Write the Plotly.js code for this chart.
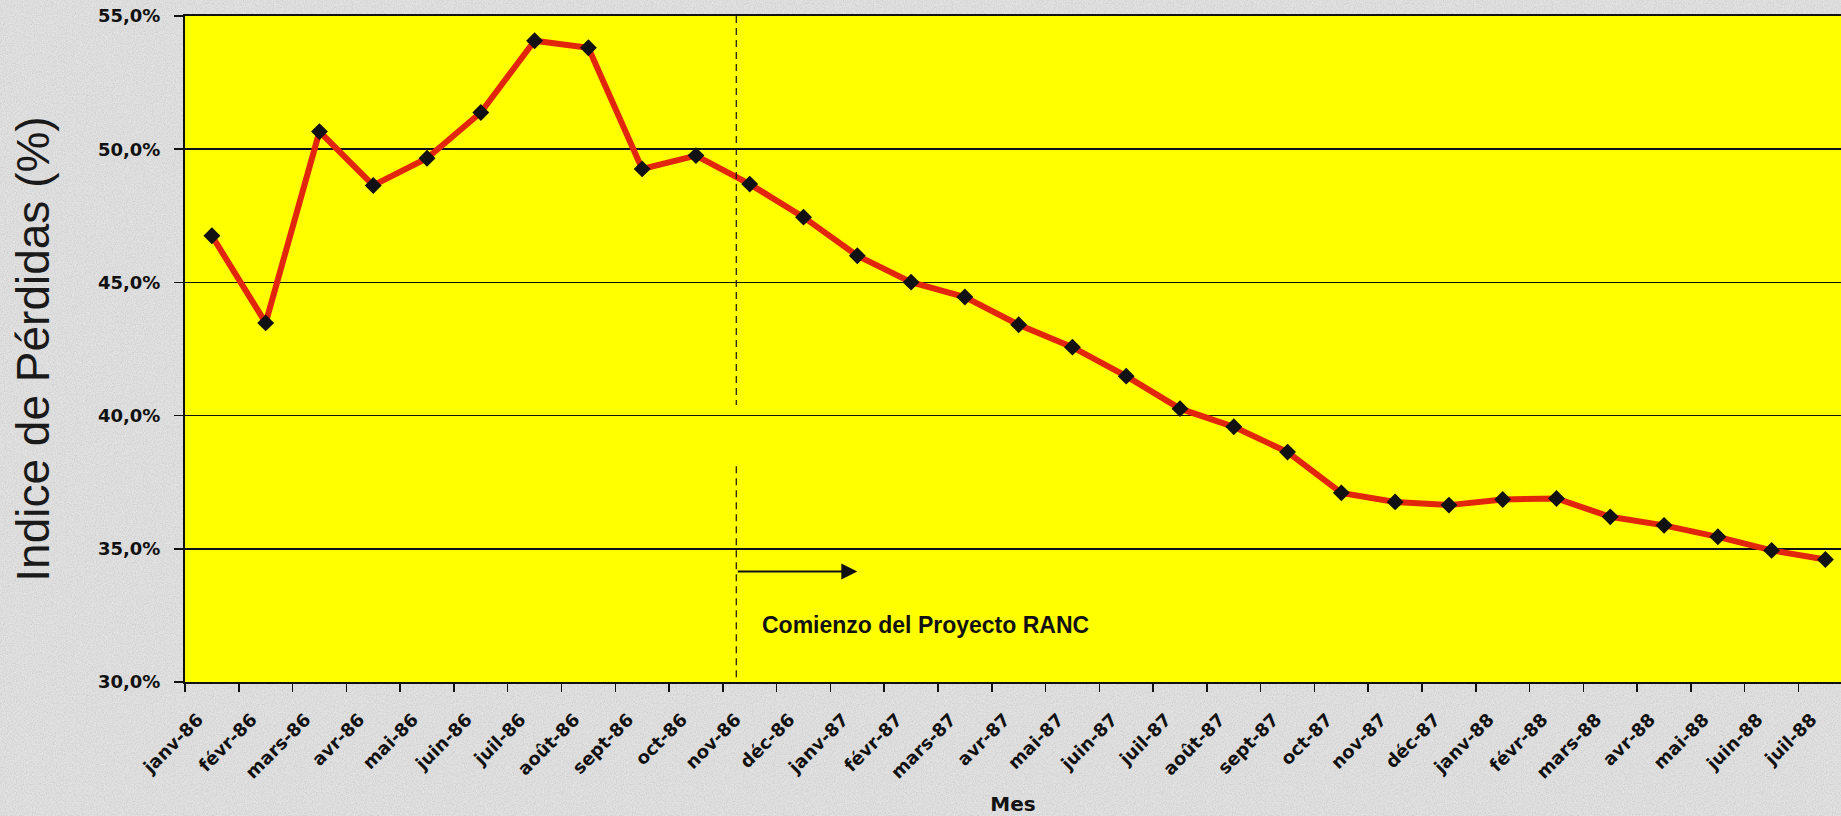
<!DOCTYPE html>
<html>
<head>
<meta charset="utf-8">
<script src="https://cdn.plot.ly/plotly-3.0.1.min.js"></script>
<style>
  html, body { margin: 0; padding: 0; overflow: hidden; }
  body {
    width: 1841px; height: 816px;
    background-color: #dadada;
    background-image: url("data:image/svg+xml;utf8,<svg xmlns='http://www.w3.org/2000/svg' width='300' height='300'><filter id='n'><feTurbulence type='fractalNoise' baseFrequency='0.9' numOctaves='2' stitchTiles='stitch'/><feColorMatrix type='matrix' values='0 0 0 0 0.5  0 0 0 0 0.5  0 0 0 0 0.5  0 0 0 1.6 -0.55'/></filter><rect width='300' height='300' fill='%23e2e2e2'/><rect width='300' height='300' filter='url(%23n)' opacity='0.6'/></svg>");
  }
  #chart { width: 1841px; height: 816px; }
</style>
</head>
<body>
<div id="chart"></div>
<script>
// ---- data ----
const months = [
  "janv-86","févr-86","mars-86","avr-86","mai-86","juin-86","juil-86","août-86","sept-86","oct-86","nov-86","déc-86",
  "janv-87","févr-87","mars-87","avr-87","mai-87","juin-87","juil-87","août-87","sept-87","oct-87","nov-87","déc-87",
  "janv-88","févr-88","mars-88","avr-88","mai-88","juin-88","juil-88"
];
const lossIndex = [
  46.75, 43.48, 50.66, 48.64, 49.66, 51.38, 54.07, 53.81, 49.26, 49.76, 48.69, 47.45,
  46.00, 45.01, 44.45, 43.41, 42.57, 41.48, 40.26, 39.58, 38.63, 37.10, 36.76, 36.64,
  36.85, 36.89, 36.20, 35.88, 35.45, 34.94, 34.60
];
const yTickVals = [30, 35, 40, 45, 50, 55];
const yTickText = ["30,0%", "35,0%", "40,0%", "45,0%", "50,0%", "55,0%"];
const yTitle = "Indice de Pérdidas (%)";
const xTitle = "Mes";
const projectLabel = "Comienzo del Proyecto RANC";

// ---- chart ----
const tickFont = { family: "DejaVu Sans", size: 18, color: "#111", weight: "bold" };

const trace = {
  type: "scatter",
  mode: "lines+markers",
  x: months,
  y: lossIndex,
  line: { color: "#e2260c", width: 6 },
  marker: { symbol: "diamond", size: 13, color: "#111" },
  hoverinfo: "x+y"
};

const layout = {
  width: 1841,
  height: 816,
  margin: { l: 185, r: 0, t: 16, b: 134 },
  paper_bgcolor: "rgba(0,0,0,0)",
  plot_bgcolor: "#ffff00",
  showlegend: false,
  xaxis: {
    type: "category",
    range: [-0.5, 30.29],
    tickson: "boundaries",
    ticks: "outside",
    ticklen: 8,
    tickwidth: 1.5,
    tickcolor: "#111",
    tickangle: -45,
    tickfont: tickFont,
    ticklabelstandoff: 18,
    ticklabelshift: -14,
    showgrid: false,
    showline: true,
    linecolor: "#111",
    linewidth: 2,
    mirror: true,
    title: { text: xTitle, font: { family: "DejaVu Sans", size: 20, color: "#111", weight: "bold" }, standoff: 24 }
  },
  yaxis: {
    range: [30, 55],
    tickvals: yTickVals,
    ticktext: yTickText,
    ticks: "outside",
    ticklen: 9,
    tickwidth: 1.5,
    tickcolor: "#111",
    tickfont: tickFont,
    ticklabelstandoff: 10,
    showgrid: true,
    gridcolor: "#111",
    gridwidth: 1.5,
    showline: true,
    linecolor: "#111",
    linewidth: 2,
    zeroline: false,
    title: { text: yTitle, font: { family: "Liberation Sans", size: 46, color: "#1a1a1a" }, standoff: 34 }
  },
  shapes: [
    { type: "line", xref: "x", yref: "y", x0: 9.75, x1: 9.75, y0: 55, y1: 40.4,
      line: { color: "#111", width: 1.2, dash: "7px,5px" } },
    { type: "line", xref: "x", yref: "y", x0: 9.75, x1: 9.75, y0: 38.1, y1: 30,
      line: { color: "#111", width: 1.2, dash: "7px,5px" } }
  ],
  annotations: [
    { x: 12.0, y: 34.15, xref: "x", yref: "y", ax: 9.75, ay: 34.15, axref: "x", ayref: "y",
      showarrow: true, arrowhead: 2, arrowsize: 1.6, arrowwidth: 2, arrowcolor: "#111", text: "" },
    { x: 10.2, y: 32.15, xref: "x", yref: "y", xanchor: "left", yanchor: "middle",
      showarrow: false, text: projectLabel,
      font: { family: "Liberation Sans", size: 23, color: "#111", weight: "bold" } }
  ]
};

Plotly.newPlot("chart", [trace], layout, { displayModeBar: false, staticPlot: true });
</script>
</body>
</html>
